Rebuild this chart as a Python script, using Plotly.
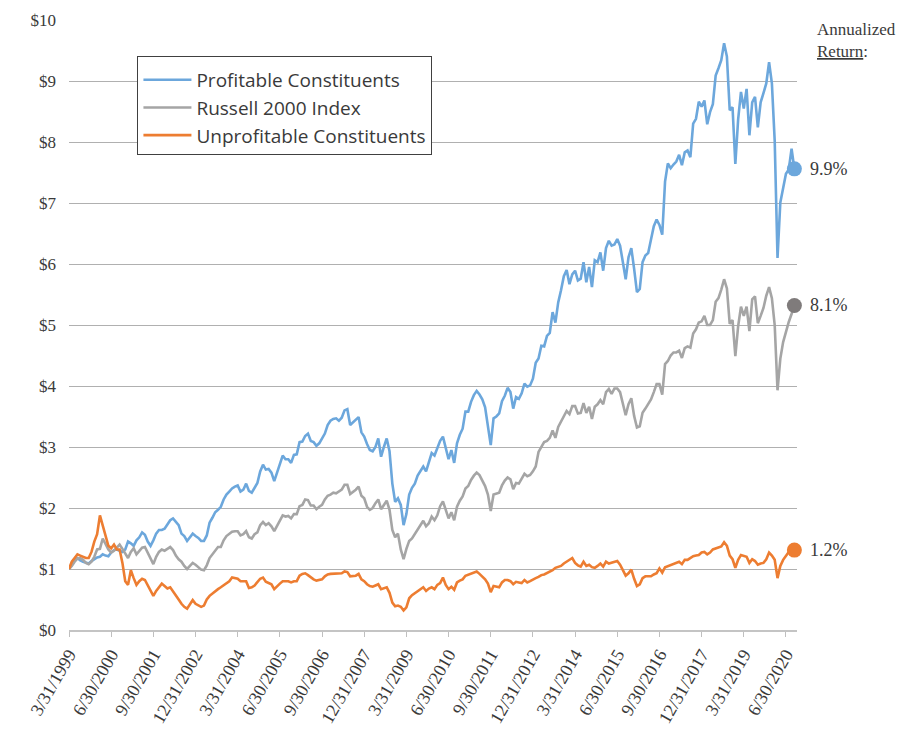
import pandas as pd
import plotly.graph_objects as go

START_DATE = "1999-03-31"
N_MONTHS = 259

TICK_LABELS = ["3/31/1999", "6/30/2000", "9/30/2001", "12/31/2002", "3/31/2004",
               "6/30/2005", "9/30/2006", "12/31/2007", "3/31/2009", "6/30/2010",
               "9/30/2011", "12/31/2012", "3/31/2014", "6/30/2015", "9/30/2016",
               "12/31/2017", "3/31/2019", "6/30/2020"]

PROFITABLE = [
    1.00, 1.08, 1.15, 1.18, 1.14, 1.12, 1.10, 1.09, 1.13, 1.16, 1.19, 1.20,
    1.24, 1.22, 1.21, 1.27, 1.31, 1.32, 1.30, 1.28, 1.32, 1.45, 1.42, 1.38,
    1.47, 1.52, 1.60, 1.56, 1.45, 1.38, 1.47, 1.58, 1.64, 1.64, 1.66, 1.74,
    1.80, 1.83, 1.78, 1.72, 1.58, 1.54, 1.46, 1.52, 1.58, 1.54, 1.51, 1.46,
    1.46, 1.55, 1.76, 1.84, 1.93, 1.97, 2.02, 2.14, 2.22, 2.27, 2.32, 2.35,
    2.37, 2.27, 2.30, 2.40, 2.28, 2.25, 2.34, 2.41, 2.60, 2.71, 2.63, 2.64,
    2.58, 2.44, 2.58, 2.72, 2.86, 2.80, 2.80, 2.74, 2.87, 2.88, 3.08, 3.09,
    3.18, 3.22, 3.10, 3.08, 3.02, 3.06, 3.13, 3.22, 3.36, 3.43, 3.46, 3.47,
    3.43, 3.48, 3.60, 3.62, 3.36, 3.40, 3.45, 3.49, 3.24, 3.17, 3.05, 2.95,
    2.93, 3.00, 3.14, 2.84, 3.00, 3.14, 2.93, 2.40, 2.10, 2.16, 2.05, 1.72,
    1.90, 2.22, 2.33, 2.40, 2.53, 2.60, 2.68, 2.60, 2.76, 2.90, 2.86, 2.98,
    3.10, 3.17, 3.00, 2.80, 2.95, 2.74, 3.06, 3.20, 3.30, 3.58, 3.58, 3.74,
    3.85, 3.92, 3.86, 3.78, 3.65, 3.35, 3.03, 3.47, 3.50, 3.55, 3.75, 3.84,
    3.97, 3.90, 3.63, 3.82, 3.79, 3.88, 4.04, 3.99, 4.01, 4.12, 4.38, 4.45,
    4.66, 4.65, 4.82, 4.87, 5.21, 5.04, 5.37, 5.57, 5.80, 5.90, 5.67, 5.83,
    5.89, 5.73, 5.76, 6.03, 5.70, 5.95, 5.62, 6.06, 6.03, 6.19, 5.89, 6.26,
    6.38, 6.30, 6.32, 6.41, 6.30, 6.03, 5.75, 6.11, 6.26, 5.92, 5.54, 5.59,
    6.03, 6.14, 6.18, 6.40, 6.62, 6.73, 6.64, 6.48, 7.35, 7.65, 7.57, 7.63,
    7.68, 7.79, 7.62, 7.83, 7.86, 7.75, 8.30, 8.38, 8.66, 8.58, 8.68, 8.29,
    8.49, 8.62, 9.09, 9.21, 9.34, 9.62, 9.40, 8.52, 8.57, 7.64, 8.37, 8.82,
    8.55, 8.87, 8.11, 8.65, 8.74, 8.24, 8.65, 8.80, 8.96, 9.31, 8.96, 8.02,
    6.10, 7.01, 7.26, 7.48, 7.55, 7.89, 7.56,
]

RUSSELL = [
    1.00, 1.05, 1.12, 1.17, 1.18, 1.15, 1.10, 1.08, 1.12, 1.20, 1.32, 1.33,
    1.50, 1.40, 1.32, 1.27, 1.30, 1.35, 1.40, 1.33, 1.26, 1.18, 1.28, 1.34,
    1.24, 1.30, 1.35, 1.36, 1.27, 1.18, 1.08, 1.20, 1.28, 1.32, 1.30, 1.33,
    1.36, 1.31, 1.22, 1.16, 1.12, 1.05, 1.00, 1.05, 1.10, 1.07, 1.03, 0.99,
    0.98, 1.06, 1.18, 1.24, 1.29, 1.36, 1.36, 1.47, 1.54, 1.58, 1.61, 1.62,
    1.62, 1.55, 1.57, 1.62, 1.52, 1.50, 1.57, 1.60, 1.72, 1.77, 1.72, 1.75,
    1.70, 1.62, 1.70, 1.78, 1.88, 1.86, 1.87, 1.83, 1.90, 1.90, 2.03, 2.05,
    2.14, 2.13, 2.04, 2.04, 1.98, 2.02, 2.05, 2.14, 2.20, 2.22, 2.25, 2.24,
    2.27, 2.30, 2.38, 2.38, 2.23, 2.26, 2.30, 2.35, 2.20, 2.16, 2.02, 1.97,
    2.00, 2.08, 2.14, 1.98, 2.05, 2.12, 1.97, 1.64, 1.52, 1.58, 1.32, 1.16,
    1.33, 1.46, 1.50, 1.57, 1.64, 1.70, 1.79, 1.70, 1.75, 1.86, 1.80, 1.88,
    2.03, 2.11, 1.97, 1.83, 1.93, 1.80, 2.02, 2.12, 2.19, 2.32, 2.36, 2.46,
    2.53, 2.58, 2.54, 2.46, 2.36, 2.22, 1.95, 2.22, 2.24, 2.25, 2.37, 2.45,
    2.50, 2.47, 2.31, 2.41, 2.40, 2.48, 2.56, 2.52, 2.54, 2.60, 2.68, 2.92,
    3.01, 3.08, 3.10, 3.15, 3.27, 3.15, 3.33, 3.42, 3.52, 3.59, 3.54, 3.67,
    3.67, 3.55, 3.56, 3.72, 3.56, 3.66, 3.46, 3.66, 3.70, 3.77, 3.70, 3.90,
    3.95, 3.87, 3.96, 3.96, 3.90, 3.72, 3.52, 3.70, 3.80, 3.51, 3.32, 3.34,
    3.56, 3.63, 3.71, 3.78, 3.90, 4.03, 4.03, 3.86, 4.36, 4.41, 4.50, 4.55,
    4.55, 4.58, 4.46, 4.62, 4.65, 4.63, 4.86, 4.93, 5.04, 5.06, 5.15, 5.00,
    5.00, 5.08, 5.38, 5.44, 5.58, 5.75, 5.60, 5.02, 5.08, 4.49, 4.98, 5.30,
    5.15, 5.30, 4.90, 5.42, 5.47, 5.03, 5.15, 5.28, 5.48, 5.62, 5.44, 5.00,
    3.93, 4.45, 4.72, 4.90, 5.05, 5.18, 5.32,
]

UNPROFITABLE = [
    1.00, 1.12, 1.18, 1.24, 1.22, 1.20, 1.18, 1.18, 1.28, 1.45, 1.57, 1.88,
    1.72, 1.52, 1.38, 1.34, 1.40, 1.32, 1.32, 1.10, 0.80, 0.74, 0.98, 0.85,
    0.74, 0.80, 0.84, 0.82, 0.74, 0.66, 0.56, 0.64, 0.70, 0.76, 0.72, 0.68,
    0.70, 0.64, 0.57, 0.50, 0.43, 0.38, 0.35, 0.42, 0.49, 0.43, 0.40, 0.38,
    0.40, 0.50, 0.56, 0.60, 0.63, 0.67, 0.70, 0.73, 0.77, 0.80, 0.86, 0.85,
    0.84, 0.80, 0.80, 0.80, 0.69, 0.70, 0.73, 0.78, 0.84, 0.86, 0.79, 0.77,
    0.75, 0.67, 0.72, 0.76, 0.80, 0.80, 0.80, 0.78, 0.80, 0.80, 0.89, 0.92,
    0.93, 0.90, 0.86, 0.83, 0.81, 0.82, 0.83, 0.88, 0.91, 0.92, 0.92, 0.92,
    0.92, 0.93, 0.96, 0.95, 0.88, 0.88, 0.89, 0.92, 0.83, 0.80, 0.75, 0.72,
    0.71, 0.73, 0.75, 0.67, 0.69, 0.70, 0.61, 0.45, 0.39, 0.40, 0.38, 0.32,
    0.37, 0.52, 0.57, 0.60, 0.64, 0.67, 0.70, 0.64, 0.68, 0.70, 0.67, 0.74,
    0.77, 0.86, 0.74, 0.67, 0.71, 0.66, 0.78, 0.81, 0.83, 0.89, 0.91, 0.92,
    0.94, 0.96, 0.92, 0.87, 0.83, 0.76, 0.62, 0.72, 0.71, 0.70, 0.78, 0.82,
    0.82, 0.80, 0.75, 0.79, 0.78, 0.77, 0.82, 0.78, 0.80, 0.83, 0.85, 0.87,
    0.90, 0.91, 0.93, 0.96, 0.98, 1.02, 1.03, 1.05, 1.09, 1.12, 1.14, 1.18,
    1.10, 1.06, 1.04, 1.12, 1.05, 1.07, 1.03, 1.02, 1.05, 1.09, 1.04, 1.12,
    1.09, 1.10, 1.11, 1.13, 1.07, 0.99, 0.89, 0.93, 0.99, 0.84, 0.72, 0.75,
    0.85, 0.88, 0.88, 0.88, 0.91, 0.93, 1.01, 0.94, 1.03, 1.05, 1.07, 1.09,
    1.10, 1.12, 1.08, 1.15, 1.15, 1.18, 1.21, 1.22, 1.23, 1.27, 1.28, 1.24,
    1.27, 1.32, 1.34, 1.35, 1.37, 1.44, 1.38, 1.22, 1.16, 1.02, 1.15, 1.23,
    1.22, 1.20, 1.10, 1.16, 1.13, 1.07, 1.09, 1.10, 1.16, 1.27, 1.22, 1.15,
    0.85, 1.05, 1.15, 1.22, 1.28, 1.31, 1.31,
]

SERIES_NAMES = ["Profitable Constituents", "Russell 2000 Index", "Unprofitable Constituents"]
ANNUALIZED = ["9.9%", "8.1%", "1.2%"]

dates = pd.date_range(START_DATE, periods=N_MONTHS, freq="ME")
CATEGORIES = [f"{d.month}/{d.day}/{d.year}" for d in dates]

LINE_COLORS = ["#6CA7DC", "#A5A5A5", "#ED7D31"]
MARKER_COLORS = ["#6CA7DC", "#7F7B7B", "#ED7D31"]
SERIF = "Liberation Serif"
TEXT_COLOR = "#3A3A3A"

fig = go.Figure()
series = [PROFITABLE, RUSSELL, UNPROFITABLE]
for name, vals, col in zip(SERIES_NAMES, series, LINE_COLORS):
    fig.add_trace(go.Scatter(x=CATEGORIES, y=vals, mode="lines", name=name,
                             legendgroup=name,
                             line=dict(color=col, width=2.6)))
for vals, col in zip(series, MARKER_COLORS):
    fig.add_trace(go.Scatter(x=[CATEGORIES[-1]], y=[vals[-1]], mode="markers",
                             showlegend=False, cliponaxis=False,
                             marker=dict(color=col, size=15, line=dict(width=0))))

for vals, label in zip(series, ANNUALIZED):
    fig.add_annotation(x=CATEGORIES[-1], y=vals[-1], text=label, showarrow=False,
                       xanchor="left", yanchor="middle", xshift=14,
                       font=dict(family=SERIF, size=18, color=TEXT_COLOR))

fig.add_annotation(xref="paper", yref="paper", x=1.0245, y=0.984, text="Annualized",
                   showarrow=False, xanchor="left", yanchor="middle",
                   font=dict(family=SERIF, size=17, color=TEXT_COLOR))
fig.add_annotation(xref="paper", yref="paper", x=1.0245, y=0.948, text="<u>Return</u>:",
                   showarrow=False, xanchor="left", yanchor="middle",
                   font=dict(family=SERIF, size=17, color=TEXT_COLOR))

# page body keeps an 8px margin, so the figure is sized to fill the rest of the window
fig.update_layout(
    width=899, height=725,
    margin=dict(l=61, r=110, t=12, b=103, autoexpand=False),
    paper_bgcolor="white", plot_bgcolor="white",
    showlegend=True,
    legend=dict(x=0.094, y=0.941, xanchor="left", yanchor="top",
                bgcolor="white", bordercolor="#404040", borderwidth=1,
                font=dict(family="Open Sans", size=19, color=TEXT_COLOR),
                title=dict(text=" ", font=dict(size=3)),
                itemwidth=48, tracegroupgap=5, traceorder="normal"),
    xaxis=dict(type="category", categoryorder="array", categoryarray=CATEGORIES,
               range=[0, N_MONTHS - 0.07], tickmode="array", automargin=False,
               tickvals=TICK_LABELS, ticktext=TICK_LABELS, tickangle=-60,
               ticks="outside", ticklen=5, tickcolor="#BFBFBF", tickwidth=1.3,
               showline=True, linecolor="#C4C4C4", linewidth=1.5,
               showgrid=False, zeroline=False,
               tickfont=dict(family=SERIF, size=18, color=TEXT_COLOR)),
    yaxis=dict(range=[0, 10], dtick=1, tickprefix="$", showgrid=True, automargin=False,
               gridcolor="#B0B0B0", gridwidth=1.3, zeroline=False, showline=False,
               ticklabelstandoff=12,
               tickfont=dict(family=SERIF, size=17, color=TEXT_COLOR)),
)

fig.write_html("out.html")
